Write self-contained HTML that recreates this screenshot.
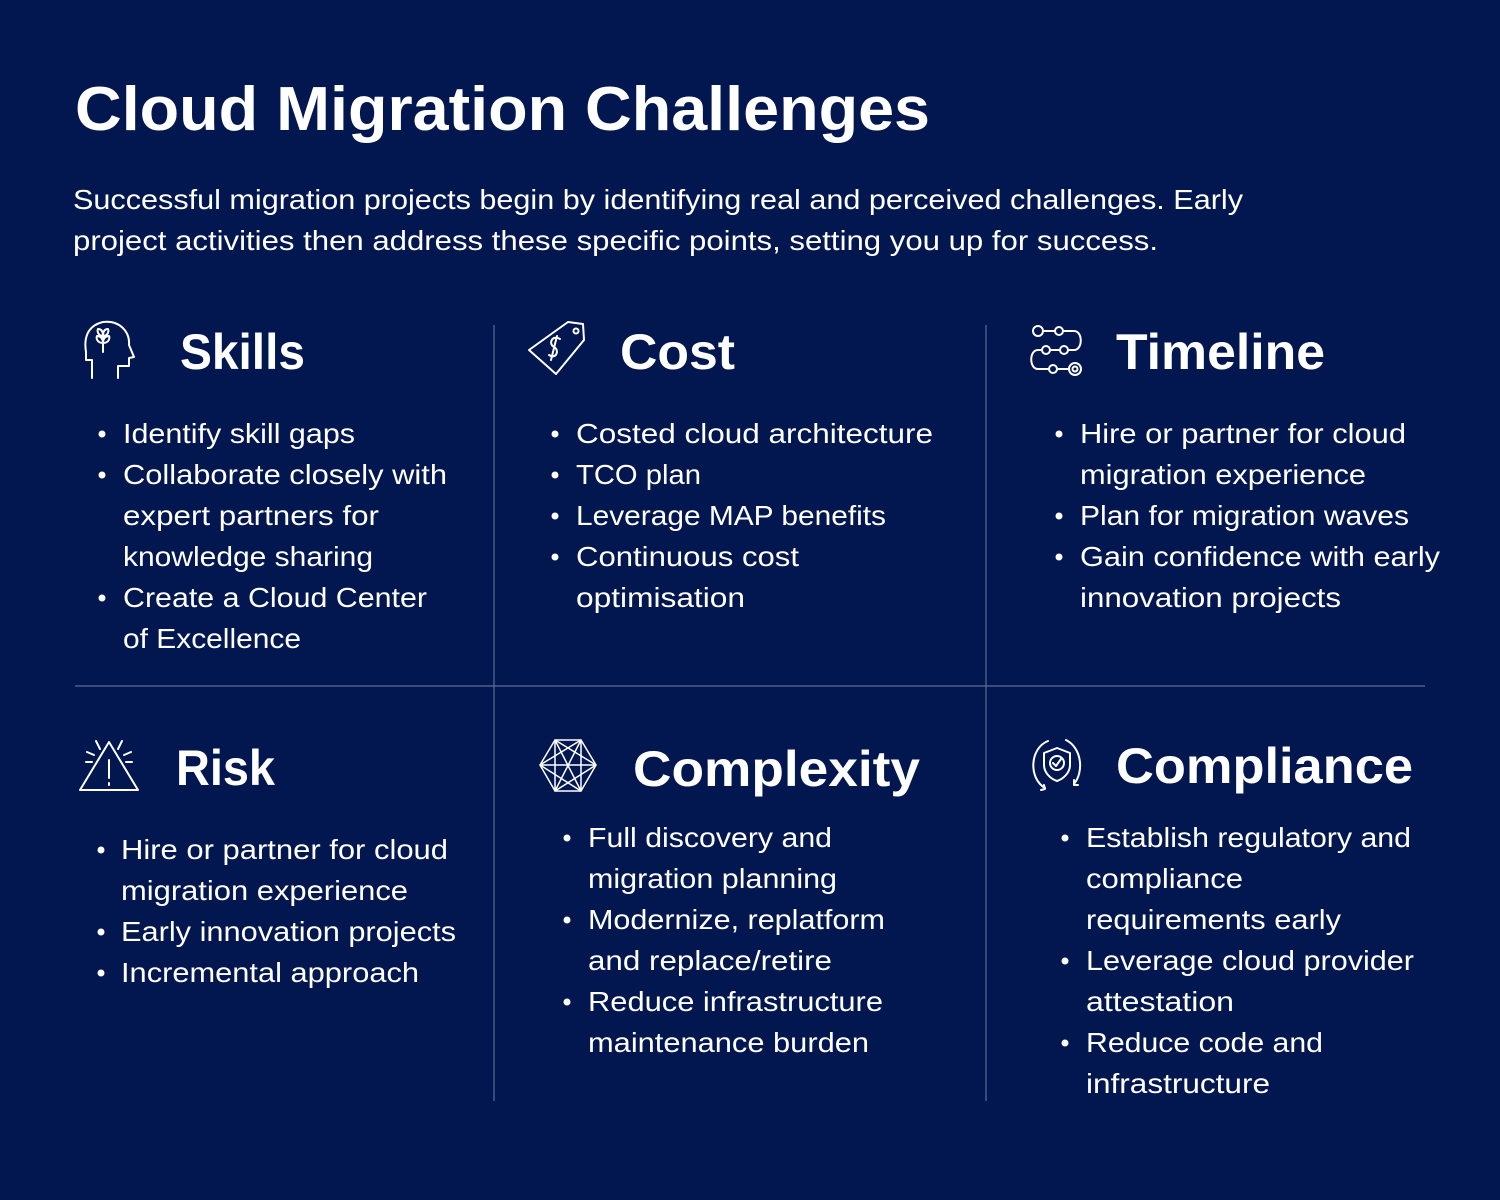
<!DOCTYPE html>
<html><head><meta charset="utf-8"><style>
html,body{margin:0;padding:0;background:#02174f;}
svg{display:block}
text{font-family:"Liberation Sans",sans-serif;fill:#fff}
.b{font-size:28px}
.h{font-size:50px;font-weight:bold}
</style></head><body>
<svg width="1500" height="1200" viewBox="0 0 1500 1200" xmlns="http://www.w3.org/2000/svg">
<rect width="1500" height="1200" fill="#02174f"/>
<text x="75" y="130" style="font-size:62px;font-weight:bold" textLength="855" lengthAdjust="spacingAndGlyphs">Cloud Migration Challenges</text>
<text class="b" x="73" y="209" textLength="1170" lengthAdjust="spacingAndGlyphs">Successful migration projects begin by identifying real and perceived challenges. Early</text>
<text class="b" x="73" y="250" textLength="1085" lengthAdjust="spacingAndGlyphs">project activities then address these specific points, setting you up for success.</text>
<g stroke="#5d6d98" stroke-width="1.2">
<line x1="494" y1="325" x2="494" y2="1101"/>
<line x1="986" y1="325" x2="986" y2="1101"/>
<line x1="75" y1="686" x2="1425" y2="686"/>
</g>
<!-- headings -->
<text class="h" x="180" y="369" textLength="125" lengthAdjust="spacingAndGlyphs">Skills</text>
<text class="h" x="620" y="369" textLength="115" lengthAdjust="spacingAndGlyphs">Cost</text>
<text class="h" x="1116" y="369" textLength="209" lengthAdjust="spacingAndGlyphs">Timeline</text>
<text class="h" x="176" y="785" textLength="99" lengthAdjust="spacingAndGlyphs">Risk</text>
<text class="h" x="633" y="786" textLength="287" lengthAdjust="spacingAndGlyphs">Complexity</text>
<text class="h" x="1116" y="783" textLength="297" lengthAdjust="spacingAndGlyphs">Compliance</text>
<!-- icons -->
<g fill="none" stroke="#fff" stroke-width="2" stroke-linejoin="round" stroke-linecap="round">
<!-- skills -->
<path d="M92 378 V360 H86 V352 C84 340 86 326 103 322 C120 320 130 332 129 345 L134 357 L129 358 V366 H118 V378"/>
<path d="M103 352 V333 M103 343 C97 343 96 338 97 336 C100 336 103 338 103 343 M103 343 C109 343 110 338 109 336 C106 336 103 338 103 343 M103 336 C98 336 97 331 98 329 C101 329 103 331 103 336 M103 336 C108 336 109 331 108 329 C105 329 103 331 103 336"/>
<!-- cost -->
<path d="M568 322 L583 324 L584 340 L556 374 L529 350 Z"/>
<circle cx="576" cy="331" r="2.5"/>
<path d="M560 339 C552 334 548 344 554 347 C560 350 556 360 549 355 M557 336 L551 360"/>
<!-- timeline -->
<circle cx="1038" cy="331" r="5"/><circle cx="1059" cy="331" r="4"/>
<path d="M1043 331 H1055 M1063 331 H1074 C1083 331 1083 350 1074 350 H1068"/>
<circle cx="1064" cy="350" r="4"/><circle cx="1046" cy="350" r="4"/>
<path d="M1060 350 H1050 M1042 350 H1038 C1029 350 1029 369 1038 369 H1049"/>
<circle cx="1053" cy="369" r="4"/><path d="M1057 369 H1068"/>
<circle cx="1075" cy="369" r="6"/><circle cx="1075" cy="369" r="2.5"/>
<!-- risk -->
<path d="M109 742 L80 790 H138 Z"/>
<path d="M109 760 V778 M109 783 V785"/>
<path d="M96 741 L100 749 M87 752 L94 755 M122 741 L118 749 M131 752 L124 755 M86 762 H92 M126 762 H132"/>
<!-- complexity -->
<g stroke-width="1.5">
<path d="M555 740 L581 740 L596 765 L581 791 L555 791 L540 765 Z"/>
<path d="M555 740 L581 791 M581 740 L555 791 M540 765 L596 765 M555 740 L596 765 L555 791 M581 740 L540 765 L581 791 M555 740 L555 791 M581 740 L581 791"/>
</g>
<!-- compliance -->
<path d="M1048 741 C1030 748 1028 778 1045 788 M1066 740 C1082 748 1084 772 1074 784"/>
<path d="M1044 785 L1045 789 L1041 790 M1074 780 L1074 785 L1078 785"/>
<path d="M1057 748 L1070 753 V765 C1070 773 1063 779 1057 781 C1051 779 1044 773 1044 765 V753 Z"/>
<circle cx="1057" cy="763" r="7"/><path d="M1053 763 L1056 766 L1061 759"/>
</g>
<!-- bullets -->
<g fill="#fff">
<circle cx="102" cy="434" r="3.5"/><circle cx="102" cy="475" r="3.5"/><circle cx="102" cy="598" r="3.5"/>
<circle cx="555" cy="434" r="3.5"/><circle cx="555" cy="475" r="3.5"/><circle cx="555" cy="516" r="3.5"/><circle cx="555" cy="557" r="3.5"/>
<circle cx="1059" cy="434" r="3.5"/><circle cx="1059" cy="516" r="3.5"/><circle cx="1059" cy="557" r="3.5"/>
<circle cx="101" cy="850" r="3.5"/><circle cx="101" cy="932" r="3.5"/><circle cx="101" cy="973" r="3.5"/>
<circle cx="567" cy="838" r="3.5"/><circle cx="567" cy="920" r="3.5"/><circle cx="567" cy="1002" r="3.5"/>
<circle cx="1065" cy="838" r="3.5"/><circle cx="1065" cy="961" r="3.5"/><circle cx="1065" cy="1043" r="3.5"/>
</g>
<!-- body -->
<g class="b">
<text class="b" x="123" y="443" textLength="232" lengthAdjust="spacingAndGlyphs">Identify skill gaps</text>
<text class="b" x="123" y="484" textLength="324" lengthAdjust="spacingAndGlyphs">Collaborate closely with</text>
<text class="b" x="123" y="525" textLength="256" lengthAdjust="spacingAndGlyphs">expert partners for</text>
<text class="b" x="123" y="566" textLength="250" lengthAdjust="spacingAndGlyphs">knowledge sharing</text>
<text class="b" x="123" y="607" textLength="304" lengthAdjust="spacingAndGlyphs">Create a Cloud Center</text>
<text class="b" x="123" y="648" textLength="178" lengthAdjust="spacingAndGlyphs">of Excellence</text>

<text class="b" x="576" y="443" textLength="357" lengthAdjust="spacingAndGlyphs">Costed cloud architecture</text>
<text class="b" x="576" y="484" textLength="125" lengthAdjust="spacingAndGlyphs">TCO plan</text>
<text class="b" x="576" y="525" textLength="310" lengthAdjust="spacingAndGlyphs">Leverage MAP benefits</text>
<text class="b" x="576" y="566" textLength="223" lengthAdjust="spacingAndGlyphs">Continuous cost</text>
<text class="b" x="576" y="607" textLength="169" lengthAdjust="spacingAndGlyphs">optimisation</text>

<text class="b" x="1080" y="443" textLength="326" lengthAdjust="spacingAndGlyphs">Hire or partner for cloud</text>
<text class="b" x="1080" y="484" textLength="286" lengthAdjust="spacingAndGlyphs">migration experience</text>
<text class="b" x="1080" y="525" textLength="329" lengthAdjust="spacingAndGlyphs">Plan for migration waves</text>
<text class="b" x="1080" y="566" textLength="360" lengthAdjust="spacingAndGlyphs">Gain confidence with early</text>
<text class="b" x="1080" y="607" textLength="261" lengthAdjust="spacingAndGlyphs">innovation projects</text>

<text class="b" x="121" y="859" textLength="327" lengthAdjust="spacingAndGlyphs">Hire or partner for cloud</text>
<text class="b" x="121" y="900" textLength="287" lengthAdjust="spacingAndGlyphs">migration experience</text>
<text class="b" x="121" y="941" textLength="335" lengthAdjust="spacingAndGlyphs">Early innovation projects</text>
<text class="b" x="121" y="982" textLength="298" lengthAdjust="spacingAndGlyphs">Incremental approach</text>

<text class="b" x="588" y="847" textLength="244" lengthAdjust="spacingAndGlyphs">Full discovery and</text>
<text class="b" x="588" y="888" textLength="249" lengthAdjust="spacingAndGlyphs">migration planning</text>
<text class="b" x="588" y="929" textLength="297" lengthAdjust="spacingAndGlyphs">Modernize, replatform</text>
<text class="b" x="588" y="970" textLength="244" lengthAdjust="spacingAndGlyphs">and replace/retire</text>
<text class="b" x="588" y="1011" textLength="295" lengthAdjust="spacingAndGlyphs">Reduce infrastructure</text>
<text class="b" x="588" y="1052" textLength="281" lengthAdjust="spacingAndGlyphs">maintenance burden</text>

<text class="b" x="1086" y="847" textLength="325" lengthAdjust="spacingAndGlyphs">Establish regulatory and</text>
<text class="b" x="1086" y="888" textLength="157" lengthAdjust="spacingAndGlyphs">compliance</text>
<text class="b" x="1086" y="929" textLength="255" lengthAdjust="spacingAndGlyphs">requirements early</text>
<text class="b" x="1086" y="970" textLength="328" lengthAdjust="spacingAndGlyphs">Leverage cloud provider</text>
<text class="b" x="1086" y="1011" textLength="148" lengthAdjust="spacingAndGlyphs">attestation</text>
<text class="b" x="1086" y="1052" textLength="237" lengthAdjust="spacingAndGlyphs">Reduce code and</text>
<text class="b" x="1086" y="1093" textLength="184" lengthAdjust="spacingAndGlyphs">infrastructure</text>
</g>
</svg>
</body></html>
